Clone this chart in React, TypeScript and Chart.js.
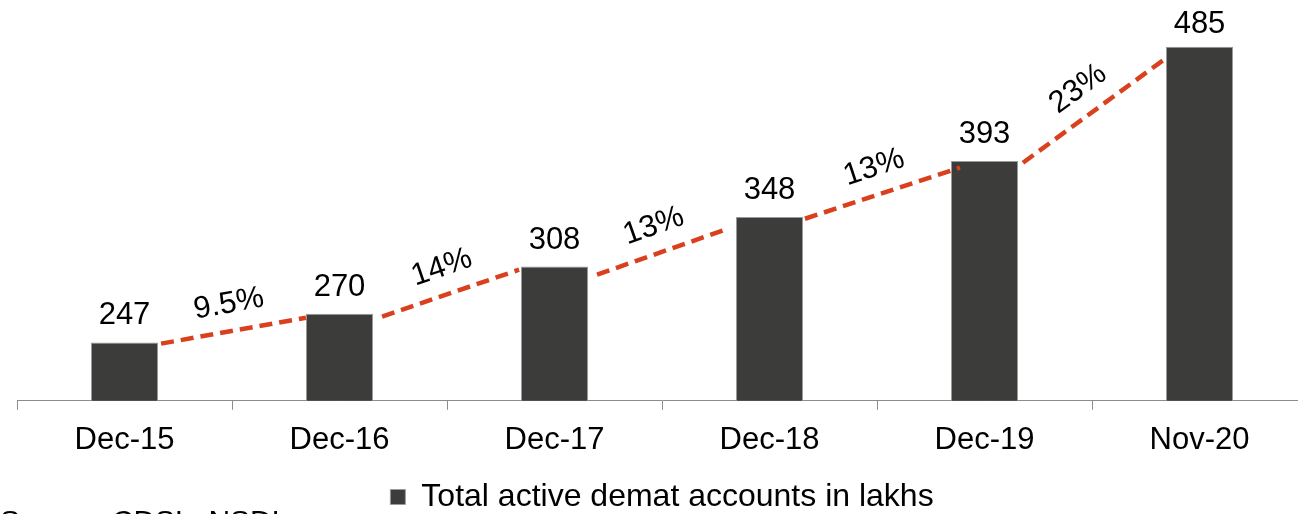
import React, { useEffect, useRef } from "react";
import { Chart, registerables } from "chart.js";

Chart.register(...registerables);

const categories = ["Dec-15", "Dec-16", "Dec-17", "Dec-18", "Dec-19", "Nov-20"];
const accounts = [247, 270, 308, 348, 393, 485];
const growthLabels = ["9.5%", "14%", "13%", "13%", "23%"];
// Dashed growth connectors (x in category units, y in lakhs)
const growthStartX = [0.17, 1.198, 2.198, 3.165, 4.179];
const growthStartY = [246, 267.7, 301.5, 346.5, 391.6];
const growthEndX = [0.844, 1.835, 2.807, 3.886, 4.84];
const growthEndY = [266.9, 305.5, 338.5, 387.6, 475.2];
const yMin = 200;
const yMax = 500;
const seriesLabel = "Total active demat accounts in lakhs";
const sourceNote = "Source: CDSL, NSDL";

const FONT = '"Liberation Sans", Arial, Helvetica, sans-serif';

const labelsPlugin = {
  id: "customLabels",
  afterDatasetsDraw(chart: any) {
    const ctx = chart.ctx as CanvasRenderingContext2D;
    const top = chart.chartArea.top;
    const xs = chart.scales.x;
    const ys = chart.scales.y;
    const x0 = xs.getPixelForValue(0);
    const step = xs.getPixelForValue(1) - x0;
    const px = (u: number) => x0 + u * step;

    ctx.save();
    // dashed growth connectors
    ctx.strokeStyle = "#D9411E";
    ctx.lineWidth = 4.5;
    ctx.lineCap = "butt";
    ctx.setLineDash([13, 7]);
    const segs: { a: [number, number]; b: [number, number] }[] = [];
    growthStartX.forEach((sx, i) => {
      const a: [number, number] = [px(sx), ys.getPixelForValue(growthStartY[i])];
      const b: [number, number] = [px(growthEndX[i]), ys.getPixelForValue(growthEndY[i])];
      segs.push({ a, b });
      ctx.beginPath();
      ctx.moveTo(a[0], a[1]);
      ctx.lineTo(b[0], b[1]);
      ctx.stroke();
    });
    ctx.setLineDash([]);

    ctx.fillStyle = "#000";
    ctx.font = `31px ${FONT}`;
    ctx.textAlign = "center";
    ctx.textBaseline = "alphabetic";
    const barMeta = chart.getDatasetMeta(0);
    barMeta.data.forEach((bar: any, i: number) => {
      const y = Math.max(bar.y - 18, top + 5);
      ctx.fillText(String(accounts[i]), bar.x, y);
    });

    growthLabels.forEach((t, i) => {
      const { a, b } = segs[i];
      const ang = Math.atan2(b[1] - a[1], b[0] - a[0]);
      const mx = (a[0] + b[0]) / 2;
      const my = (a[1] + b[1]) / 2;
      const off = 27;
      const cx = mx + Math.sin(ang) * off;
      const cy = my - Math.cos(ang) * off;
      ctx.save();
      ctx.translate(cx, cy);
      ctx.rotate(ang);
      ctx.textBaseline = "middle";
      ctx.fillText(t, 0, 0);
      ctx.restore();
    });

    ctx.textAlign = "left";
    ctx.textBaseline = "alphabetic";
    ctx.font = `30px ${FONT}`;
    ctx.fillText(sourceNote, 0, 531);
    ctx.restore();
  },
};

export default function App() {
  const canvasRef = useRef<HTMLCanvasElement | null>(null);

  useEffect(() => {
    if (!canvasRef.current) return;
    const chart = new Chart(canvasRef.current, {
      type: "bar",
      data: {
        labels: categories,
        datasets: [
          {
            label: seriesLabel,
            data: accounts,
            backgroundColor: "#3C3C3B",
            borderColor: "#9a9a9a",
            borderWidth: 1,
            barPercentage: 0.312,
            categoryPercentage: 1,
          },
        ],
      },
      options: {
        responsive: false,
        animation: false,
        layout: { padding: { left: 17, right: 31, top: 28, bottom: 0 } },
        font: { family: FONT },
        plugins: {
          tooltip: { enabled: false },
          legend: {
            position: "bottom",
            labels: {
              boxWidth: 15,
              boxHeight: 15,
              color: "#000",
              font: { size: 32, family: FONT },
              padding: 10,
            },
          },
        },
        scales: {
          x: {
            type: "category",
            grid: {
              offset: true,
              drawOnChartArea: false,
              drawTicks: true,
              tickLength: 9,
              color: "#8c8c8c",
              lineWidth: 1,
            },
            border: { display: true, color: "#8c8c8c", width: 1 },
            ticks: { color: "#000", font: { size: 31, family: FONT }, padding: 12 },
          },
          y: {
            display: false,
            min: yMin,
            max: yMax,
          },
        },
      },
      plugins: [labelsPlugin],
    });
    return () => chart.destroy();
  }, []);

  return (
    <div style={{ position: "fixed", left: 0, top: 0, right: 0, bottom: 0, overflow: "hidden", background: "#fff" }}>
      <canvas ref={canvasRef} width={1338} height={523} style={{ display: "block" }} />
    </div>
  );
}
